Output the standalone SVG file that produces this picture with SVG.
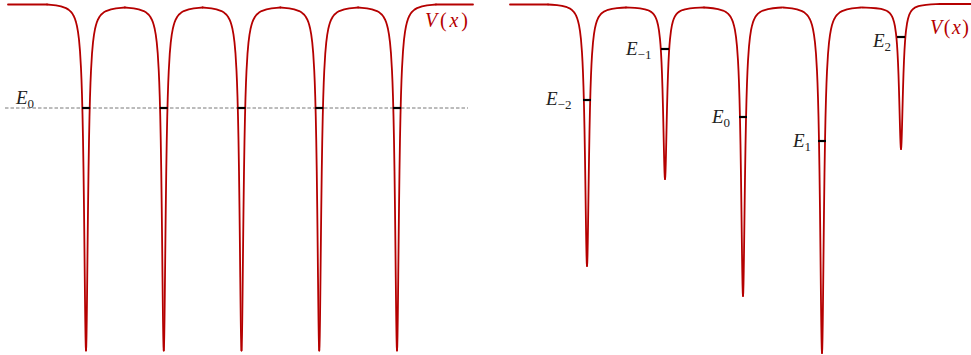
<svg xmlns="http://www.w3.org/2000/svg" xmlns:xlink="http://www.w3.org/1999/xlink" width="971" height="355" viewBox="0 0 971 355">
<style>
.pot{fill:none;stroke:#b50000;stroke-width:1.8;stroke-linejoin:round;stroke-linecap:round}
.well{fill:none;stroke:#b50000;stroke-width:1.8;stroke-linejoin:round;stroke-linecap:round;vector-effect:non-scaling-stroke}
.tick{stroke:#000;stroke-width:2.2}
.dash{stroke:#555;stroke-width:0.8;stroke-dasharray:3.5 2;fill:none}
.lbl{font-family:"Liberation Serif","DejaVu Serif",serif;font-style:italic;font-size:19px;fill:#222}
.sub{font-style:normal;font-size:13px}
.vx{font-family:"Liberation Serif","DejaVu Serif",serif;font-size:20px;fill:#b50000}
.it{font-style:italic}
</style>
<defs>
<path id="R" class="well" d="M0,343 L0.25,339.3 L0.5,328.7 L0.75,312.4 L1,292.1 L1.25,269.5 L1.5,246.3 L1.75,223.5 L2,201.9 L2.5,163.8 L3,133.1 L3.5,108.8 L4,89.8 L4.5,74.9 L5,63.2 L6,46.2 L7,34.9 L8,27.1 L9,21.56 L10,17.45 L11,14.34 L12,11.94 L13.5,9.25 L15,7.29 L17.5,5.06 L20,3.59 L25,1.84 L30,0.89 L35,0.31 L39,0"/>
<path id="L" class="well" d="M-39,0 L-35,0.31 L-30,0.89 L-25,1.84 L-20,3.59 L-17.5,5.06 L-15,7.29 L-13.5,9.25 L-12,11.94 L-11,14.34 L-10,17.45 L-9,21.56 L-8,27.1 L-7,34.9 L-6,46.2 L-5,63.2 L-4.5,74.9 L-4,89.8 L-3.5,108.8 L-3,133.1 L-2.5,163.8 L-2,201.9 L-1.75,223.5 L-1.5,246.3 L-1.25,269.5 L-1,292.1 L-0.75,312.4 L-0.5,328.7 L-0.25,339.3 L0,343"/>
</defs>

<g id="left-panel">
  <line class="dash" x1="5" y1="108" x2="468" y2="108"/>
  <g id="left-potential">
    <path class="pot" d="M8,4.5 L47,4.5"/>
    <use href="#L" xlink:href="#L" transform="translate(86,4.5) scale(1,1.0087)"/>
    <use href="#R" xlink:href="#R" transform="translate(86,7.5) scale(1,1.0000)"/>
    <use href="#L" xlink:href="#L" transform="translate(163.75,7.5) scale(1,1.0000)"/>
    <use href="#R" xlink:href="#R" transform="translate(163.75,7.5) scale(1,1.0000)"/>
    <use href="#L" xlink:href="#L" transform="translate(241.5,7.5) scale(1,1.0000)"/>
    <use href="#R" xlink:href="#R" transform="translate(241.5,7.5) scale(1,1.0000)"/>
    <use href="#L" xlink:href="#L" transform="translate(319.25,7.5) scale(1,1.0000)"/>
    <use href="#R" xlink:href="#R" transform="translate(319.25,7.5) scale(1,1.0000)"/>
    <use href="#L" xlink:href="#L" transform="translate(397,7.5) scale(1,1.0000)"/>
    <use href="#R" xlink:href="#R" transform="translate(397,4.5) scale(1,1.0087)"/>
    <path class="pot" d="M436,4.5 L473,4.5"/>
  </g>
  <g id="left-levels">
    <line class="tick" x1="82" y1="108" x2="90" y2="108"/>
    <line class="tick" x1="159.75" y1="108" x2="167.75" y2="108"/>
    <line class="tick" x1="237.5" y1="108" x2="245.5" y2="108"/>
    <line class="tick" x1="315.25" y1="108" x2="323.25" y2="108"/>
    <line class="tick" x1="393" y1="108" x2="401" y2="108"/>
  </g>
  <text class="lbl" x="16" y="104">E<tspan class="sub" dy="3.5">0</tspan></text>
  <text class="vx" x="425" y="27" textLength="43" lengthAdjust="spacing"><tspan class="it">V</tspan>(<tspan class="it">x</tspan>)</text>
</g>

<g id="right-panel">
  <g id="right-potential">
    <path class="pot" d="M510,4.5 L548,4.5"/>
    <use href="#L" xlink:href="#L" transform="translate(587,4.5) scale(1,0.7624)"/>
    <use href="#R" xlink:href="#R" transform="translate(587,7.5) scale(1,0.7536)"/>
    <use href="#L" xlink:href="#L" transform="translate(665,7.5) scale(1,0.5000)"/>
    <use href="#R" xlink:href="#R" transform="translate(665,7.5) scale(1,0.5000)"/>
    <use href="#L" xlink:href="#L" transform="translate(743,7.5) scale(1,0.8411)"/>
    <use href="#R" xlink:href="#R" transform="translate(743,7.5) scale(1,0.8411)"/>
    <use href="#L" xlink:href="#L" transform="translate(822,7.5) scale(1,1.0073)"/>
    <use href="#R" xlink:href="#R" transform="translate(822,7.5) scale(1,1.0073)"/>
    <use href="#L" xlink:href="#L" transform="translate(901,7.5) scale(1,0.4125)"/>
    <use href="#R" xlink:href="#R" transform="translate(901,4) scale(1,0.4227)"/>
    <path class="pot" d="M940,4 L971,4"/>
  </g>
  <g id="right-levels">
    <line class="tick" x1="583" y1="100" x2="591" y2="100"/>
    <line class="tick" x1="661" y1="49" x2="669" y2="49"/>
    <line class="tick" x1="739" y1="117" x2="747" y2="117"/>
    <line class="tick" x1="818" y1="141" x2="826" y2="141"/>
    <line class="tick" x1="897" y1="37" x2="905" y2="37"/>
  </g>
  <text class="lbl" x="546" y="105">E<tspan class="sub" dy="3.5">−2</tspan></text>
  <text class="lbl" x="626" y="55">E<tspan class="sub" dy="3.5">−1</tspan></text>
  <text class="lbl" x="712" y="123">E<tspan class="sub" dy="3.5">0</tspan></text>
  <text class="lbl" x="793" y="147">E<tspan class="sub" dy="3.5">1</tspan></text>
  <text class="lbl" x="873" y="47">E<tspan class="sub" dy="3.5">2</tspan></text>
  <text class="vx" x="930" y="34" textLength="39" lengthAdjust="spacing"><tspan class="it">V</tspan>(<tspan class="it">x</tspan>)</text>
</g>
</svg>
